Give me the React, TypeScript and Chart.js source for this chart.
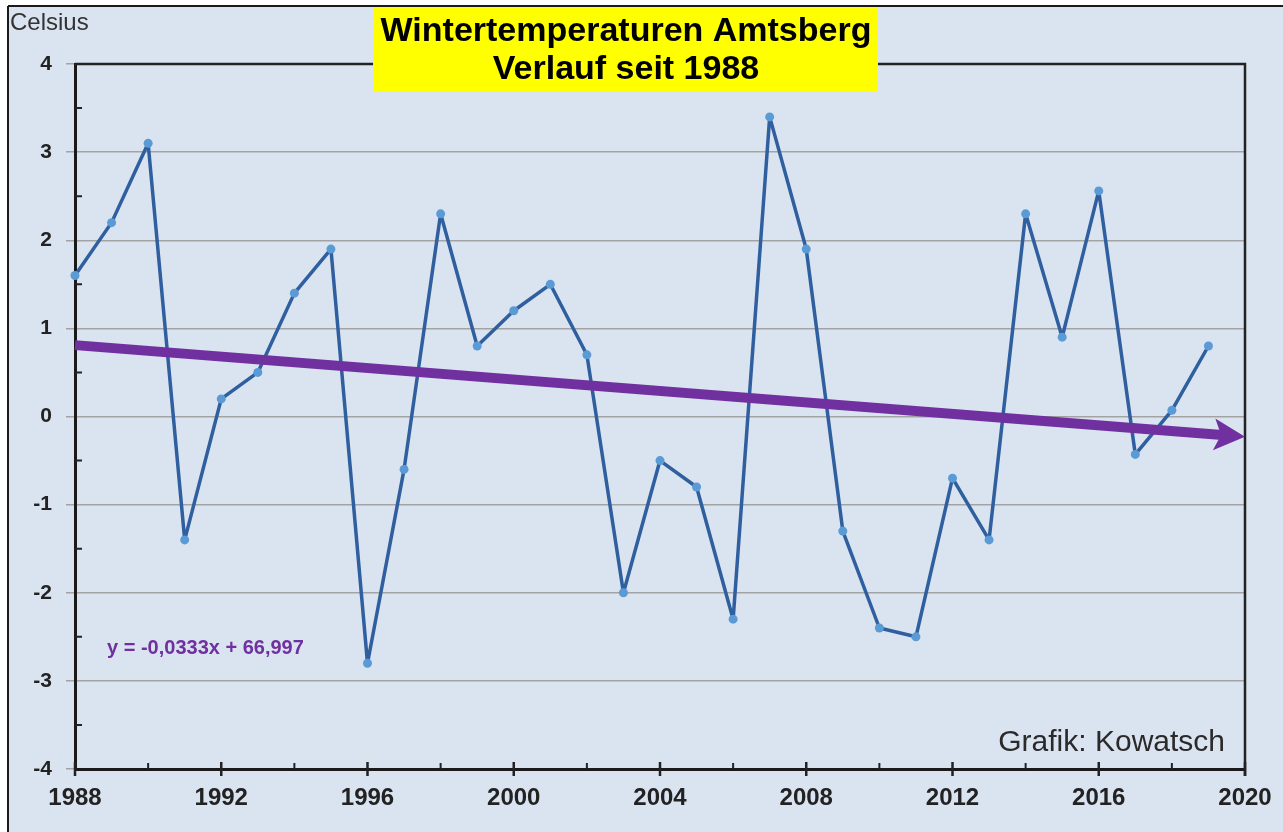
import React, { useEffect, useRef } from "react";
import { Chart, registerables } from "chart.js";

Chart.register(...registerables);

const years = [
  1988, 1989, 1990, 1991, 1992, 1993, 1994, 1995, 1996, 1997, 1998, 1999, 2000, 2001, 2002, 2003,
  2004, 2005, 2006, 2007, 2008, 2009, 2010, 2011, 2012, 2013, 2014, 2015, 2016, 2017, 2018, 2019,
];
const winterTemps = [
  1.6, 2.2, 3.1, -1.4, 0.2, 0.5, 1.4, 1.9, -2.8, -0.6, 2.3, 0.8, 1.2, 1.5, 0.7, -2.0,
  -0.5, -0.8, -2.3, 3.4, 1.9, -1.3, -2.4, -2.5, -0.7, -1.4, 2.3, 0.9, 2.56, -0.43, 0.07, 0.8,
];
const trendYears = [1988, 2020];
const trendValues = [0.81, -0.23];
const xMajorTicks = [1988, 1992, 1996, 2000, 2004, 2008, 2012, 2016, 2020];
const xMinorTicks = [1990, 1994, 1998, 2002, 2006, 2010, 2014, 2018];
const yMinorTicks = [-3.5, -2.5, -1.5, -0.5, 0.5, 1.5, 2.5, 3.5];
const titleLines = ["Wintertemperaturen Amtsberg", "Verlauf seit 1988"];
const yAxisTitle = "Celsius";
const equationText = "y = -0,0333x + 66,997";
const creditText = "Grafik: Kowatsch";

const FONT = '"Liberation Sans", Arial, sans-serif';
const W = 1283;
const H = 832;

const decorPlugin = {
  id: "decor",
  beforeDraw(chart: any) {
    const ctx = chart.ctx;
    ctx.save();
    ctx.fillStyle = "#ffffff";
    ctx.fillRect(0, 0, W, H);
    ctx.fillStyle = "#dae3f0";
    ctx.fillRect(8, 6, W - 8, H - 6);
    ctx.strokeStyle = "#1a1a1a";
    ctx.lineWidth = 2;
    ctx.beginPath();
    ctx.moveTo(8, 6);
    ctx.lineTo(W, 6);
    ctx.moveTo(8, 6);
    ctx.lineTo(8, H);
    ctx.stroke();
    ctx.restore();
  },
  beforeDatasetsDraw(chart: any) {
    const ctx = chart.ctx;
    const a = chart.chartArea;
    const xs = chart.scales.x;
    const ys = chart.scales.y;
    ctx.save();
    ctx.strokeStyle = "#222222";
    ctx.lineWidth = 2.5;
    ctx.beginPath();
    ctx.moveTo(a.left, a.top);
    ctx.lineTo(a.right, a.top);
    ctx.lineTo(a.right, a.bottom + 7);
    ctx.stroke();
    ctx.lineWidth = 2.5;
    ctx.beginPath();
    xMajorTicks.forEach((v) => {
      const px = xs.getPixelForValue(v);
      ctx.moveTo(px, a.bottom - 7);
      ctx.lineTo(px, a.bottom + 7);
    });
    ctx.stroke();
    ctx.lineWidth = 2;
    ctx.beginPath();
    xMinorTicks.forEach((v) => {
      const px = xs.getPixelForValue(v);
      ctx.moveTo(px, a.bottom - 6);
      ctx.lineTo(px, a.bottom);
    });
    yMinorTicks.forEach((v) => {
      const py = ys.getPixelForValue(v);
      ctx.moveTo(a.left, py);
      ctx.lineTo(a.left + 7, py);
    });
    ctx.stroke();
    ctx.restore();
  },
  afterDatasetsDraw(chart: any) {
    const ctx = chart.ctx;
    const a = chart.chartArea;
    const xs = chart.scales.x;
    const ys = chart.scales.y;
    const x0 = xs.getPixelForValue(trendYears[0]);
    const y0 = ys.getPixelForValue(trendValues[0]);
    const x1 = xs.getPixelForValue(trendYears[1]);
    const y1 = ys.getPixelForValue(trendValues[1]);
    const ang = Math.atan2(y1 - y0, x1 - x0);
    const c = Math.cos(ang);
    const s = Math.sin(ang);
    const headLen = 31;
    const headHalf = 16;
    const notch = 7;
    ctx.save();
    ctx.strokeStyle = "#7030a0";
    ctx.fillStyle = "#7030a0";
    ctx.lineWidth = 10;
    ctx.beginPath();
    ctx.moveTo(x0, y0);
    ctx.lineTo(x1 - (headLen - notch - 1) * c, y1 - (headLen - notch - 1) * s);
    ctx.stroke();
    const bx = x1 - headLen * c;
    const by = y1 - headLen * s;
    const nx = x1 - (headLen - notch) * c;
    const ny = y1 - (headLen - notch) * s;
    ctx.beginPath();
    ctx.moveTo(x1, y1);
    ctx.lineTo(bx - headHalf * s, by + headHalf * c);
    ctx.lineTo(nx, ny);
    ctx.lineTo(bx + headHalf * s, by - headHalf * c);
    ctx.closePath();
    ctx.fill();

    ctx.font = `bold 20px ${FONT}`;
    ctx.textBaseline = "middle";
    ctx.textAlign = "left";
    ctx.fillStyle = "#7030a0";
    ctx.fillText(equationText, a.left + 32, 648);

    ctx.font = `30px ${FONT}`;
    ctx.fillStyle = "#2a2a2a";
    ctx.textAlign = "right";
    ctx.fillText(creditText, a.right - 20, 743);
    ctx.restore();
  },
  afterDraw(chart: any) {
    const ctx = chart.ctx;
    ctx.save();
    ctx.fillStyle = "#ffff00";
    ctx.fillRect(373, 7, 505, 85);
    ctx.fillStyle = "#000000";
    ctx.font = `bold 34px ${FONT}`;
    ctx.textAlign = "center";
    ctx.textBaseline = "middle";
    ctx.fillText(titleLines[0], 626, 32);
    ctx.fillText(titleLines[1], 626, 70);
    ctx.font = `24px ${FONT}`;
    ctx.fillStyle = "#333333";
    ctx.textAlign = "left";
    ctx.fillText(yAxisTitle, 10, 23);
    ctx.restore();
  },
};

export default function App() {
  const ref = useRef<HTMLCanvasElement | null>(null);
  useEffect(() => {
    document.body.style.margin = "0";
    const canvas = ref.current;
    if (!canvas) return;
    const chart = new Chart(canvas, {
      type: "line",
      data: {
        datasets: [
          {
            data: years.map((y, i) => ({ x: y, y: winterTemps[i] })),
            borderColor: "#2f5f9f",
            borderWidth: 3.5,
            borderJoinStyle: "round",
            borderCapStyle: "round",
            pointRadius: 4.5,
            pointBackgroundColor: "#5b9bd5",
            pointBorderWidth: 0,
            tension: 0,
            clip: false as any,
          },
        ],
      },
      options: {
        responsive: false,
        animation: false,
        devicePixelRatio: 1,
        layout: { padding: { left: 0, top: 64, right: 38, bottom: 0 } },
        plugins: { legend: { display: false }, tooltip: { enabled: false }, title: { display: false } },
        scales: {
          x: {
            type: "linear",
            min: 1988,
            max: 2020,
            afterBuildTicks: (scale: any) => {
              scale.ticks = xMajorTicks.map((v) => ({ value: v }));
            },
            ticks: {
              callback: (v: any) => String(v),
              font: { family: FONT, size: 24, weight: "bold" },
              color: "#222222",
              padding: 15,
              maxRotation: 0,
              autoSkip: false,
            },
            grid: { display: true, drawOnChartArea: false, drawTicks: false },
            border: { display: true, color: "#1a1a1a", width: 3 },
            afterFit: (scale: any) => {
              scale.height = 63;
              scale.paddingLeft = 0;
              scale.paddingRight = 0;
            },
          },
          y: {
            type: "linear",
            min: -4,
            max: 4,
            ticks: {
              stepSize: 1,
              callback: (v: any) => String(v),
              font: { family: FONT, size: 21, weight: "bold" },
              color: "#222222",
              padding: 14,
            },
            grid: { color: "#a3a3a3", lineWidth: 1.5, tickLength: 9 },
            border: { display: true, color: "#1a1a1a", width: 3 },
            afterFit: (scale: any) => {
              scale.width = 75;
              scale.paddingTop = 0;
              scale.paddingBottom = 0;
            },
          },
        },
      },
      plugins: [decorPlugin],
    });
    return () => chart.destroy();
  }, []);
  return (
    <div style={{ position: "fixed", left: 0, top: 0, width: W, height: H }}>
      <canvas ref={ref} width={W} height={H} style={{ width: W, height: H, display: "block" }} />
    </div>
  );
}
